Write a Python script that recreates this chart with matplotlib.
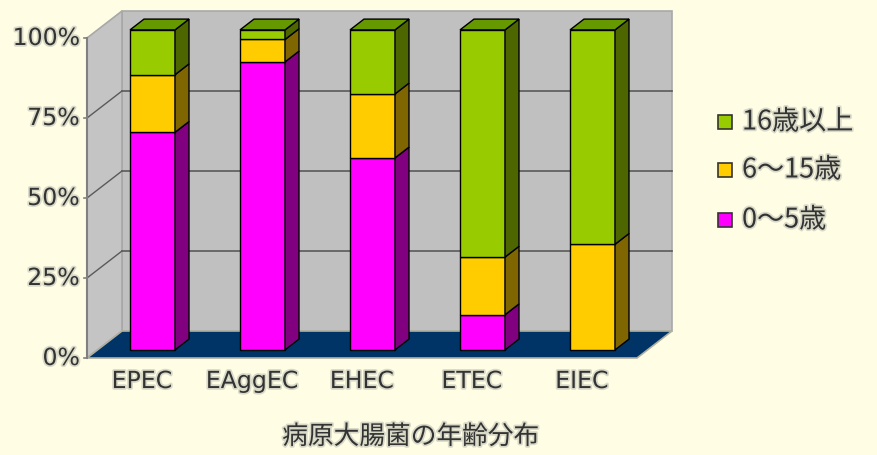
import matplotlib
matplotlib.use("Agg")
import matplotlib.pyplot as plt
from matplotlib.patches import Polygon, Rectangle
import matplotlib.patheffects as pe

categories = ["EPEC", "EAggEC", "EHEC", "ETEC", "EIEC"]
age_0_5 = [68, 90, 60, 11, 0]
age_6_15 = [18, 7, 20, 18, 33]
age_16_up = [14, 3, 20, 71, 67]
series_labels = ["0～5歳", "6～15歳", "16歳以上"]
yticks = [0, 25, 50, 75, 100]
title = "病原大腸菌の年齢分布"

W, H = 877, 455
bg = "#FFFDE4"
front_cols = ["#FF00FF", "#FFCC00", "#99CC00"]
side_cols = ["#800080", "#806600", "#4D6600"]
top_cols = ["#A000A0", "#A08000", "#669900"]

plt.rcParams["font.family"] = ["Noto Sans CJK JP", "DejaVu Sans"]
halo = [pe.withStroke(linewidth=2.5, foreground="#D9D9C8")]

fig = plt.figure(figsize=(W / 100, H / 100), dpi=100)
fig.patch.set_facecolor(bg)

# axes = front plane of the 3d box
ax = fig.add_axes([87 / W, (H - 358) / H, 550 / W, 320 / H])
ax.set_xlim(-0.5, 4.5)
ax.set_ylim(0, 100)
ax.axis("off")

DX = 35 / 110
DY = 27 / 3.2
x0, x1 = -0.5, 4.5


def poly(pts, fc, ec="none", lw=0.8, z=1):
    ax.add_patch(Polygon(pts, closed=True, facecolor=fc, edgecolor=ec,
                         linewidth=lw, clip_on=False, zorder=z))


# walls and floor
poly([(x0 + DX, DY), (x1 + DX, DY), (x1 + DX, 100 + DY), (x0 + DX, 100 + DY)],
     "#C0C0C0", "#A8A8A8", 1.2, 1)
poly([(x0, 0), (x0 + DX, DY), (x0 + DX, 100 + DY), (x0, 100)],
     "#C4C4C4", "#A8A8A8", 1.2, 1)
poly([(x0, 0), (x1, 0), (x1 + DX, DY), (x0 + DX, DY)],
     "#003366", "#B0B0A0", 1.2, 2)

for v in yticks[1:-1]:
    ax.plot([x0 + DX, x1 + DX], [v + DY, v + DY], color="#5A5A5A", lw=1.2,
            clip_on=False, zorder=1.5)
    ax.plot([x0, x0 + DX], [v, v + DY], color="#5A5A5A", lw=1.0,
            clip_on=False, zorder=1.5)
ax.plot([x0, x0], [0, 100], color="#808080", lw=1.5, clip_on=False, zorder=3)
for v in yticks:
    ax.plot([x0 - 0.03, x0], [v, v], color="#808080", lw=1.2,
            clip_on=False, zorder=3)
    ax.text(x0 - 0.065, v, f"{v}%", ha="right", va="center", fontsize=17,
            family="DejaVu Sans", color="#333333", path_effects=halo)

# stacked bars
bw = 45 / 110
f0, fd = 0.3, 0.4
for i, cat in enumerate(categories):
    vals = [age_0_5[i], age_6_15[i], age_16_up[i]]
    xl = i - bw / 2 + f0 * DX
    xr = xl + bw
    bottom = 0
    last = max(k for k, v in enumerate(vals) if v > 0)
    for k, v in enumerate(vals):
        if v <= 0:
            continue
        b = bottom + f0 * DY
        t = bottom + v + f0 * DY
        poly([(xl, b), (xr, b), (xr, t), (xl, t)], front_cols[k], "black", 1.0, 5)
        poly([(xr, b), (xr + fd * DX, b + fd * DY), (xr + fd * DX, t + fd * DY),
              (xr, t)], side_cols[k], "black", 1.0, 5)
        if k == last:
            poly([(xl, t), (xr, t), (xr + fd * DX, t + fd * DY),
                  (xl + fd * DX, t + fd * DY)], top_cols[k], "black", 1.0, 5)
        bottom += v
    ax.text(i, -7.2, cat, ha="center", va="center", fontsize=17,
            family="DejaVu Sans", color="#333333", path_effects=halo)

# legend
leg_y = [122, 170, 220]
for k, y in zip([2, 1, 0], leg_y):
    fig.patches.append(Rectangle((718 / W, (H - y - 7) / H), 14 / W, 14 / H,
                                 facecolor=front_cols[k], edgecolor="#333333",
                                 linewidth=1.2, transform=fig.transFigure))
    fig.text(742 / W, (H - y) / H, series_labels[k], ha="left", va="center",
             fontsize=19.5, color="#333333", path_effects=halo)

fig.text(411 / W, (H - 437) / H, title, ha="center", va="center",
         fontsize=18.5, color="#333333", path_effects=halo)

fig.savefig("out.png", dpi=100, facecolor=bg)
